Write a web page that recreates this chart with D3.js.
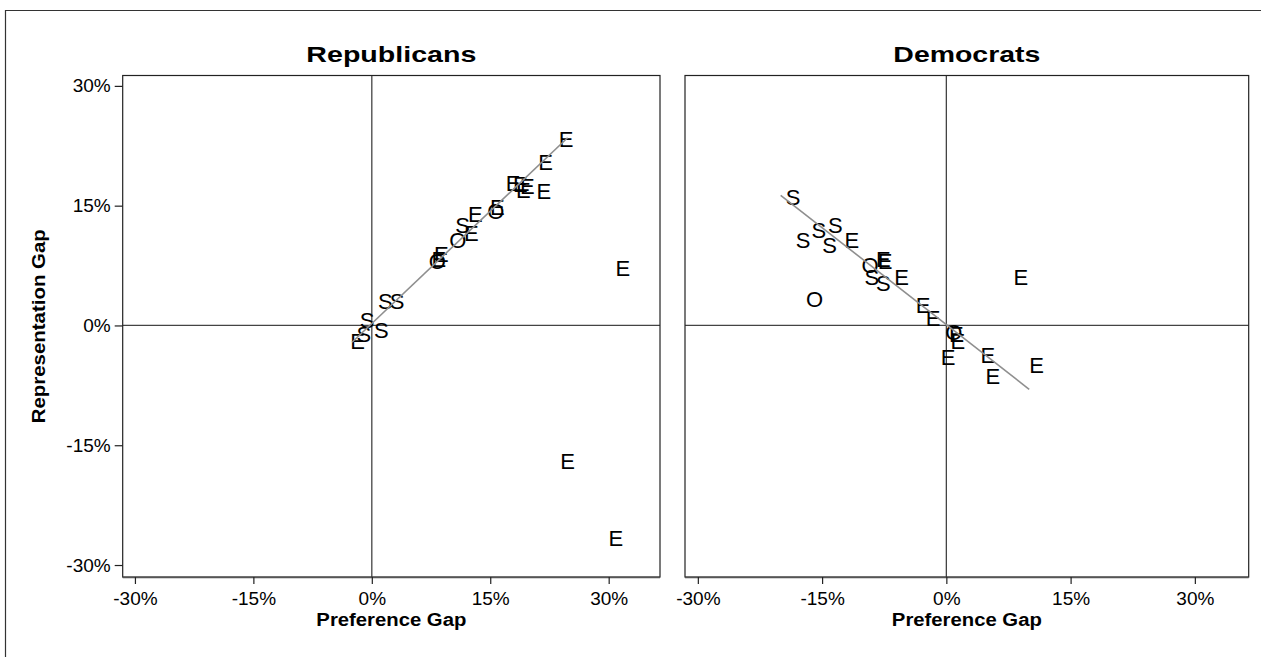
<!DOCTYPE html>
<html>
<head>
<meta charset="utf-8">
<script src="https://cdn.jsdelivr.net/npm/d3@7"></script>
<style>
  html, body { margin: 0; padding: 0; background: #fff; }
  svg { display: block; }
  text { font-family: "Liberation Sans", Arial, Helvetica, sans-serif; fill: #000; }
</style>
</head>
<body>
<svg id="chart" width="1261" height="657"></svg>
<script>
// ---------- data ----------
const panelTitles = ["Republicans", "Democrats"];
const tickValues = [-30, -15, 0, 15, 30];
const tickLabels = ["-30%", "-15%", "0%", "15%", "30%"];
const xTitle = "Preference Gap";
const yTitle = "Representation Gap";

// Republicans: marker label, preference gap (%), representation gap (%)
const repLabels = ["E","E","E","E","E","E","E","O","E","E","S","E","O","E","O","E","S","S","S","S","S","E","E","E","E"];
const repX = [24.6, 22.0, 17.9, 18.8, 19.7, 19.2, 21.8, 15.7, 15.9, 13.1, 11.5, 12.6, 10.9, 8.8, 8.3, 8.5, 1.7, 3.2, -0.6, 1.2, -1.0, -1.8, 31.8, 24.8, 30.9];
const repY = [23.4, 20.5, 17.8, 17.7, 17.5, 17.0, 16.8, 14.3, 14.8, 14.0, 12.6, 11.6, 10.7, 9.0, 8.1, 8.3, 3.0, 3.0, 0.7, -0.6, -1.1, -1.9, 7.2, -17.0, -26.6];
const repFitX = [-2.5, 24.8];
const repFitY = [-2.1, 23.5];

// Democrats
const demLabels = ["S","S","S","S","S","E","O","E","E","S","S","E","O","E","E","O","E","E","E","E","E","E","E"];
const demX = [-18.5, -15.4, -13.4, -17.3, -14.1, -11.4, -9.2, -7.6, -7.4, -9.0, -7.6, -5.4, -15.9, -2.8, -1.6, 0.9, 1.2, 1.4, 0.2, 5.0, 5.6, 10.9, 9.0];
const demY = [16.1, 12.0, 12.6, 10.7, 10.1, 10.7, 7.6, 8.3, 8.1, 6.1, 5.3, 6.1, 3.3, 2.6, 0.9, -0.8, -1.1, -2.0, -3.9, -3.7, -6.4, -4.9, 6.1];
const demFitX = [-20.0, 10.0];
const demFitY = [16.3, -8.0];

// ---------- layout ----------
const svg = d3.select("#chart");
const xDomain = [-31.55, 36.5];
const yDomain = [-31.5, 31.3];
const plotTop = 75.5, plotBottom = 577;
const panels = [
  { title: panelTitles[0], left: 122.7, right: 660, labels: repLabels, xs: repX, ys: repY, fx: repFitX, fy: repFitY, yAxis: true, tl: 170 },
  { title: panelTitles[1], left: 685, right: 1248.7, labels: demLabels, xs: demX, ys: demY, fx: demFitX, fy: demFitY, yAxis: false, tl: 147 }
];

// outer frame (cut by the window on right/bottom)
svg.append("path")
  .attr("d", "M5.5,657 V10.5 H1261")
  .attr("fill", "none").attr("stroke", "#333").attr("stroke-width", 1.2);

const y = d3.scaleLinear().domain(yDomain).range([plotBottom, plotTop]);
const fmt = d => tickLabels[tickValues.indexOf(d)];

panels.forEach(p => {
  const x = d3.scaleLinear().domain(xDomain).range([p.left, p.right]);
  const g = svg.append("g");

  // zero reference lines
  g.append("line").attr("x1", x(0)).attr("x2", x(0)).attr("y1", plotTop).attr("y2", plotBottom)
    .attr("stroke", "#444").attr("stroke-width", 1.3);
  g.append("line").attr("x1", p.left).attr("x2", p.right).attr("y1", y(0)).attr("y2", y(0))
    .attr("stroke", "#444").attr("stroke-width", 1.3);

  // marker labels
  g.selectAll("text.pt").data(p.labels).join("text")
    .attr("class", "pt")
    .attr("x", (d, i) => x(p.xs[i]))
    .attr("y", (d, i) => y(p.ys[i]))
    .attr("text-anchor", "middle")
    .attr("dy", "0.36em")
    .style("font-size", "22px")
    .text(d => d);

  // fitted line
  g.append("line")
    .attr("x1", x(p.fx[0])).attr("y1", y(p.fy[0]))
    .attr("x2", x(p.fx[1])).attr("y2", y(p.fy[1]))
    .attr("stroke", "#8f8f8f").attr("stroke-width", 1.6);

  // plot region border
  g.append("rect").attr("x", p.left).attr("y", plotTop)
    .attr("width", p.right - p.left).attr("height", plotBottom - plotTop)
    .attr("fill", "none").attr("stroke", "#222").attr("stroke-width", 1.2);
  g.append("line").attr("x1", p.left).attr("x2", p.right).attr("y1", plotBottom + 0.5).attr("y2", plotBottom + 0.5)
    .attr("stroke", "#555").attr("stroke-width", 1.5);

  // x axis
  const xa = g.append("g").attr("transform", `translate(0,${plotBottom})`)
    .call(d3.axisBottom(x).tickValues(tickValues).tickFormat(fmt).tickSize(7).tickPadding(8));
  xa.select(".domain").remove();
  xa.selectAll(".tick line").attr("stroke", "#222").attr("stroke-width", 1.2);
  xa.selectAll(".tick text").style("font-size", "19px").attr("fill", "#000");

  // x title
  g.append("text").attr("x", (p.left + p.right) / 2).attr("y", 626)
    .attr("text-anchor", "middle").style("font-size", "18px").style("font-weight", "bold")
    .attr("textLength", 150).attr("lengthAdjust", "spacingAndGlyphs")
    .text(xTitle);

  // panel title
  g.append("text").attr("x", (p.left + p.right) / 2).attr("y", 62)
    .attr("text-anchor", "middle").style("font-size", "22.5px").style("font-weight", "bold")
    .attr("textLength", p.tl).attr("lengthAdjust", "spacingAndGlyphs")
    .text(p.title);

  if (p.yAxis) {
    const ya = g.append("g").attr("transform", `translate(${p.left},0)`)
      .call(d3.axisLeft(y).tickValues(tickValues).tickFormat(fmt).tickSize(8).tickPadding(4));
    ya.select(".domain").remove();
    ya.selectAll(".tick line").attr("stroke", "#222").attr("stroke-width", 1.2);
    ya.selectAll(".tick text").style("font-size", "19px").attr("fill", "#000");

    svg.append("text")
      .attr("transform", `translate(45,${(plotTop + plotBottom) / 2}) rotate(-90)`)
      .attr("text-anchor", "middle").style("font-size", "18px").style("font-weight", "bold")
      .attr("textLength", 194).attr("lengthAdjust", "spacingAndGlyphs")
      .text(yTitle);
  }
});
</script>
</body>
</html>
